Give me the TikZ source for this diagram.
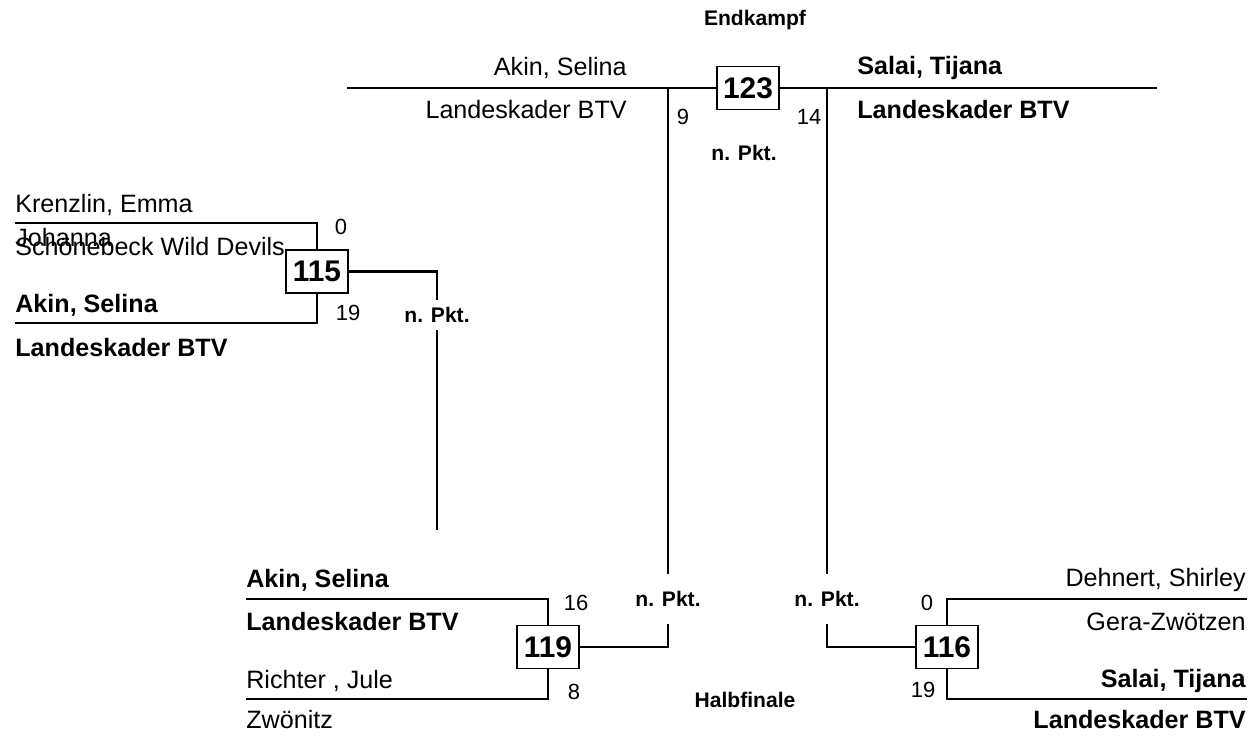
\documentclass[tikz,border=0pt]{standalone}
\usepackage{fontspec}
\setmainfont{Liberation Sans}

\begin{document}
\begin{tikzpicture}[x=0.02cm,y=-0.02cm,
  tie/.style={draw=black,line width=1.6pt},
  matchbox/.style={draw=black,line width=0.7pt,fill=white,minimum width=1.24cm,minimum height=0.86cm,inner sep=0pt,font=\fontsize{17}{19}\selectfont\bfseries},
  entrant/.style={inner sep=0pt,font=\fontsize{14.3}{16}\selectfont},
  winner/.style={inner sep=0pt,font=\fontsize{14.3}{16}\selectfont\bfseries},
  score/.style={inner sep=0pt,font=\fontsize{12.5}{14}\selectfont},
  result/.style={inner sep=0pt,font=\fontsize{12}{14}\selectfont\bfseries},
  phase/.style={inner sep=0pt,font=\fontsize{12}{14}\selectfont\bfseries},
]
\useasboundingbox (0,0) rectangle (1250,736);
\node[phase] (endkampf) at (755,20) {Endkampf};
\node[phase] (halbfinale) at (745,700) {Halbfinale};
% boxes
\node[matchbox] (m123) at (748,88) {123};
\node[matchbox] (m115) at (317,271.5) {115};
\node[matchbox] (m119) at (548,647) {119};
\node[matchbox] (m116) at (947,647) {116};
\node[result,minimum height=17pt] (p115) at (437,315) {n. Pkt.};
\node[result,minimum height=28pt] (p119) at (668,599) {n. Pkt.};
\node[result,minimum height=28pt] (p116) at (827,599) {n. Pkt.};
\node[result] (p123) at (744,153) {n. Pkt.};
\coordinate (k1) at (15,223);
\coordinate (k2) at (15,323);
\coordinate (e115) at (437,530);
\coordinate (a1) at (246,599);
\coordinate (a2) at (246,699);
\coordinate (d1) at (1247,599);
\coordinate (d2) at (1247,699);
\coordinate (f0) at (347,88);
\coordinate (f3) at (1157,88);
% lines
\draw[tie] (k1) -| (m115);
\draw[tie] (k2) -| (m115);
\draw[tie] (m115.east) -| (p115.north);
\draw[tie] (p115.south) -- (e115);
\draw[tie] (a1) -| (m119);
\draw[tie] (a2) -| (m119);
\draw[tie] (m119.east) -| (p119.south);
\draw[tie] (p119.north) -- (p119.north |- f0);
\draw[tie] (d1) -| (m116);
\draw[tie] (d2) -| (m116);
\draw[tie] (m116.west) -| (p116.south);
\draw[tie] (p116.north) -- (p116.north |- f0);
\draw[tie] (f0) -- (m123.west);
\draw[tie] (m123.east) -- (f3);
% scores
\node[score] (s115a) at (341,227) {0};
\node[score] (s115b) at (348,313) {19};
\node[score] (s123a) at (683,117) {9};
\node[score] (s123b) at (809,117) {14};
\node[score] (s119a) at (576,603) {16};
\node[score] (s119b) at (574,692) {8};
\node[score] (s116a) at (927,603) {0};
\node[score] (s116b) at (923,690) {19};
% names
\node[entrant,anchor=west] (n115a) at (15,205) {Krenzlin, Emma};
\node[entrant,anchor=west] (n115b) at (15,238) {Johanna};
\node[entrant,anchor=west] (n115c) at (15,247) {Schönebeck Wild Devils};
\node[winner,anchor=west] (n115d) at (15,305) {Akin, Selina};
\node[winner,anchor=west] (n115e) at (15,348) {Landeskader BTV};
\node[entrant,anchor=east] (n123a) at (627,68) {Akin, Selina};
\node[entrant,anchor=east] (n123b) at (627,110) {Landeskader BTV};
\node[winner,anchor=west] (n123c) at (857,68) {Salai, Tijana};
\node[winner,anchor=west] (n123d) at (857,110) {Landeskader BTV};
\node[winner,anchor=west] (n119a) at (246,580) {Akin, Selina};
\node[winner,anchor=west] (n119b) at (246,622) {Landeskader BTV};
\node[entrant,anchor=west] (n119c) at (246,681) {Richter , Jule};
\node[entrant,anchor=west] (n119d) at (246,720) {Zwönitz};
\node[entrant,anchor=east] (n116a) at (1246,580) {Dehnert, Shirley};
\node[entrant,anchor=east] (n116b) at (1246,622) {Gera-Zwötzen};
\node[winner,anchor=east] (n116c) at (1246,681) {Salai, Tijana};
\node[winner,anchor=east] (n116d) at (1246,720) {Landeskader BTV};
\end{tikzpicture}
\end{document}
